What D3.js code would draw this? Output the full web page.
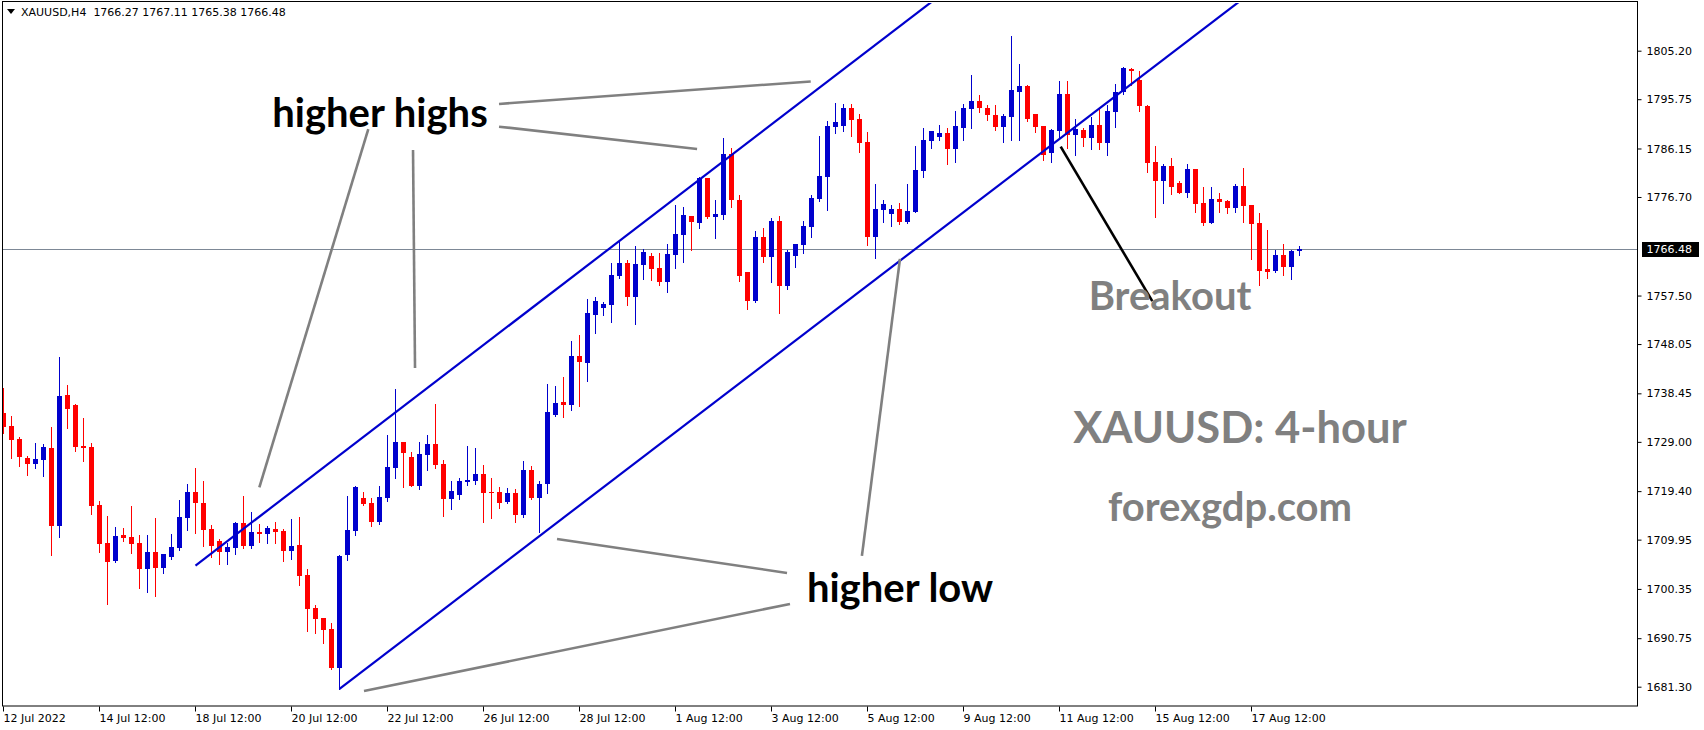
<!DOCTYPE html>
<html><head><meta charset="utf-8">
<script src="https://cdn.jsdelivr.net/npm/d3@7"></script>
<style>body{margin:0;background:#fff}svg{display:block}</style>
</head><body>
<svg id="c" width="1704" height="730"></svg>
<script>
// ---- data (XAUUSD H4) ----
const symbolTitle = "XAUUSD,H4";
const lastQuote = [1766.27, 1767.11, 1765.38, 1766.48];
const openP = [1734.57,1732.10,1729.57,1725.86,1724.76,1725.54,1727.81,1712.68,1738.14,1736.19,1728.20,1728.01,1716.71,1709.31,1705.86,1710.86,1710.48,1709.31,1704.31,1707.55,1704.50,1706.64,1708.39,1714.23,1719.23,1717.09,1712.03,1709.62,1707.61,1708.39,1713.19,1708.71,1711.44,1711.12,1712.03,1711.64,1707.74,1708.91,1703.06,1696.64,1694.69,1692.55,1684.95,1706.90,1711.70,1718.07,1717.09,1713.39,1718.13,1723.98,1728.98,1726.05,1720.47,1726.51,1728.59,1724.69,1717.94,1718.72,1721.25,1721.44,1722.74,1719.24,1719.24,1717.36,1718.98,1714.82,1723.46,1718.14,1720.73,1734.24,1736.71,1736.19,1745.73,1744.44,1753.79,1755.15,1755.73,1761.32,1763.85,1757.23,1763.46,1765.21,1762.88,1760.15,1765.47,1769.37,1773.00,1771.64,1780.41,1772.81,1773.20,1785.08,1776.12,1762.10,1756.51,1768.91,1765.08,1772.03,1759.43,1765.28,1767.42,1770.93,1776.32,1780.60,1790.41,1790.61,1794.05,1791.91,1787.43,1768.99,1774.18,1773.40,1774.38,1771.84,1773.79,1781.78,1787.62,1788.40,1789.18,1786.06,1790.16,1793.86,1795.41,1794.05,1792.69,1790.41,1792.36,1797.16,1798.33,1792.88,1790.54,1785.28,1789.56,1796.77,1788.79,1789.76,1788.20,1790.73,1787.23,1793.27,1797.16,1801.64,1799.50,1794.43,1783.53,1779.82,1782.82,1779.44,1777.56,1782.17,1775.54,1771.65,1776.32,1775.93,1774.57,1778.86,1775.15,1771.65,1762.69,1762.30,1765.41,1763.08,1766.27];
const highP = [1739.44,1734.05,1729.96,1726.25,1728.79,1728.59,1731.90,1745.54,1740.09,1736.38,1733.66,1728.79,1717.42,1714.57,1712.42,1712.23,1716.51,1710.86,1710.86,1714.18,1707.16,1711.06,1717.68,1720.73,1723.91,1721.38,1712.81,1710.01,1709.23,1713.32,1718.45,1715.34,1713.00,1712.61,1713.39,1712.03,1713.97,1714.36,1704.23,1697.22,1694.69,1693.71,1707.00,1718.52,1720.40,1719.24,1718.07,1720.40,1730.34,1739.30,1728.98,1727.03,1728.98,1730.34,1736.38,1725.47,1721.38,1721.96,1728.20,1727.81,1724.50,1721.96,1720.27,1719.95,1719.76,1725.28,1724.24,1721.45,1740.28,1739.89,1741.64,1748.66,1749.82,1756.84,1757.23,1756.25,1763.85,1768.33,1764.44,1767.16,1766.58,1765.80,1765.80,1767.55,1775.15,1774.76,1773.00,1780.60,1780.41,1776.12,1788.20,1786.25,1777.10,1762.10,1770.08,1770.67,1772.61,1773.00,1766.38,1767.55,1772.03,1777.10,1788.59,1791.51,1795.03,1794.83,1794.83,1792.88,1789.38,1779.25,1776.13,1775.16,1775.54,1779.25,1786.65,1790.16,1789.57,1790.74,1790.16,1793.47,1794.83,1800.48,1796.58,1794.64,1794.64,1792.88,1808.07,1802.62,1798.53,1792.88,1790.54,1789.95,1799.31,1799.31,1791.90,1790.15,1792.29,1794.05,1794.63,1798.72,1802.03,1801.84,1801.25,1794.63,1786.64,1783.14,1784.20,1779.83,1783.14,1782.17,1778.66,1778.66,1777.49,1776.13,1779.24,1782.36,1775.15,1773.60,1770.28,1766.45,1767.56,1766.39,1767.11];
const lowP = [1730.80,1725.93,1724.37,1722.62,1723.98,1722.42,1707.03,1710.54,1731.77,1727.29,1725.35,1715.02,1707.62,1697.49,1705.67,1709.76,1707.42,1700.61,1699.83,1699.05,1703.53,1706.25,1707.94,1711.83,1711.25,1708.78,1706.64,1705.21,1705.21,1707.22,1708.39,1708.39,1709.49,1709.30,1709.30,1705.79,1706.25,1701.12,1692.22,1691.77,1689.82,1684.75,1680.80,1705.90,1710.92,1716.70,1712.68,1713.07,1717.55,1722.03,1720.27,1720.47,1719.89,1723.59,1723.98,1714.63,1715.99,1717.94,1720.66,1720.86,1713.46,1714.24,1716.18,1717.16,1713.46,1714.44,1717.81,1711.51,1718.98,1734.05,1733.92,1735.21,1735.99,1740.93,1750.21,1753.72,1752.36,1760.93,1755.67,1751.97,1760.73,1760.54,1759.57,1758.20,1762.87,1764.04,1766.38,1770.67,1772.61,1768.72,1772.42,1774.76,1760.34,1754.89,1756.25,1764.04,1760.15,1754.17,1758.85,1763.13,1765.80,1768.98,1775.93,1774.17,1789.25,1789.64,1788.66,1785.48,1767.36,1764.90,1771.91,1771.13,1771.52,1771.70,1773.70,1780.67,1786.26,1787.82,1783.14,1783.53,1787.82,1790.16,1793.27,1791.71,1789.77,1787.42,1787.81,1787.81,1791.51,1789.37,1783.92,1783.53,1788.40,1786.25,1784.89,1786.64,1786.06,1786.06,1784.89,1790.34,1796.77,1798.53,1793.46,1781.58,1772.81,1775.54,1777.30,1777.56,1776.78,1773.79,1771.26,1771.65,1773.79,1773.60,1773.79,1771.84,1764.63,1759.63,1761.00,1762.10,1761.52,1760.80,1765.38];
const closeP = [1731.97,1729.44,1726.12,1724.76,1725.67,1728.01,1712.68,1737.94,1735.48,1728.07,1727.88,1716.58,1709.18,1705.67,1710.67,1710.35,1709.18,1704.31,1707.55,1704.50,1707.16,1708.53,1714.36,1719.23,1717.16,1711.83,1708.71,1707.61,1708.52,1713.19,1708.71,1711.38,1711.12,1712.22,1711.44,1707.74,1708.71,1702.87,1696.44,1694.49,1692.35,1684.95,1706.77,1711.83,1720.21,1716.90,1713.39,1718.26,1724.11,1728.98,1726.90,1720.47,1726.64,1728.59,1724.56,1717.94,1719.43,1721.38,1721.57,1722.74,1719.11,1719.11,1717.16,1718.98,1714.82,1723.46,1718.14,1720.73,1734.76,1736.51,1736.19,1745.73,1744.57,1754.11,1756.38,1755.86,1761.51,1763.85,1757.23,1763.66,1765.99,1762.68,1760.15,1765.60,1769.50,1773.20,1771.84,1780.41,1772.81,1773.39,1785.08,1776.12,1761.38,1756.51,1768.91,1765.08,1772.03,1759.43,1765.99,1767.55,1771.06,1776.51,1780.80,1790.54,1791.32,1794.05,1791.78,1787.30,1768.99,1774.38,1775.35,1774.38,1771.84,1773.99,1781.97,1787.82,1789.57,1789.18,1786.06,1790.54,1794.05,1795.41,1794.05,1792.69,1790.41,1792.49,1797.55,1798.33,1791.90,1790.34,1784.89,1789.76,1796.77,1788.79,1789.95,1788.20,1790.73,1787.23,1793.46,1797.16,1801.84,1801.25,1794.43,1783.33,1779.82,1782.75,1778.73,1777.56,1782.17,1775.41,1771.65,1776.32,1775.74,1774.57,1778.86,1774.96,1771.52,1762.36,1762.17,1765.41,1763.08,1766.19,1766.48];

const priceTicks = [1805.20,1795.75,1786.15,1776.70,1757.50,1748.05,1738.45,1729.00,1719.40,1709.95,1700.35,1690.75,1681.30];
const timeTickBars = [0,12,24,36,48,60,72,84,96,108,120,132,144,156];
const timeTickLabels = ["12 Jul 2022","14 Jul 12:00","18 Jul 12:00","20 Jul 12:00","22 Jul 12:00","26 Jul 12:00","28 Jul 12:00","1 Aug 12:00","3 Aug 12:00","5 Aug 12:00","9 Aug 12:00","11 Aug 12:00","15 Aug 12:00","17 Aug 12:00"];

// trend channel anchors: [bar index, price]
const upperChannel = [[24, 1704.9],[116, 1814.7]];
const lowerChannel = [[42, 1680.9],[124, 1778.5]];
// callout lines: [bar index, price] pairs
const calloutLines = [
  [[61.94,1794.83],[100.9,1799.21]],
  [[61.94,1790.40],[86.7,1786.06]],
  [[45.6,1789.9],[31.98,1720.15]],
  [[51.19,1785.86],[51.44,1743.39]],
  [[69.19,1710.08],[97.94,1703.46]],
  [[45.06,1680.47],[98.31,1697.42]],
  [[107.3,1706.77],[112.06,1764.63]]
];
const breakoutLine = [[132.15,1786.51],[143.6,1756.4]];

// ---- layout ----
const W = 1704, H = 730;
const frame = {left: 2, top: 2, right: 1637, bottom: 706};
const barStep = 8;
const xs = d3.scaleLinear().domain([0, openP.length - 1]).range([3.5, 3.5 + barStep * (openP.length - 1)]);
const ys = d3.scaleLinear().domain([1681.30, 1805.20]).range([686.7, 50.7]);

const svg = d3.select("#c");
svg.append("rect").attr("width", W).attr("height", H).attr("fill", "#fff");

const defs = svg.append("defs");
defs.append("clipPath").attr("id", "plot").append("rect")
  .attr("x", frame.left + 1).attr("y", frame.top + 1)
  .attr("width", frame.right - frame.left - 1).attr("height", frame.bottom - frame.top - 1);

const plot = svg.append("g").attr("clip-path", "url(#plot)");

// current price line
plot.append("line")
  .attr("x1", frame.left).attr("x2", frame.right)
  .attr("y1", Math.round(ys(lastQuote[3])) + 0.5).attr("y2", Math.round(ys(lastQuote[3])) + 0.5)
  .attr("stroke", "#7d8896").attr("stroke-width", 1);

// candles
const bull = "#0000cd", bear = "#ff0000";
const candles = plot.append("g").attr("shape-rendering", "crispEdges");
openP.forEach((o, i) => {
  const c = closeP[i], h = highP[i], l = lowP[i];
  const col = c > o ? bull : bear;
  const x = xs(i);
  const yh = Math.round(ys(h)), yl = Math.round(ys(l));
  candles.append("rect").attr("x", x - 0.5).attr("width", 1)
    .attr("y", yh).attr("height", Math.max(1, yl - yh + 1)).attr("fill", col);
  const yt = Math.round(ys(Math.max(o, c))), yb = Math.round(ys(Math.min(o, c)));
  candles.append("rect").attr("x", x - 2.5).attr("width", 5)
    .attr("y", yt).attr("height", Math.max(1, yb - yt)).attr("fill", col);
});

// channel rays
function ray(p, color, w) {
  const [a, b] = p;
  const slope = (b[1] - a[1]) / (b[0] - a[0]);
  const endPrice = ys.invert(frame.top - 10);
  const endIdx = a[0] + (endPrice - a[1]) / slope;
  plot.append("line")
    .attr("x1", xs(a[0])).attr("y1", ys(a[1]))
    .attr("x2", xs(endIdx)).attr("y2", ys(endPrice))
    .attr("stroke", color).attr("stroke-width", w);
}
ray(upperChannel, "#0000cd", 2.2);
ray(lowerChannel, "#0000cd", 2.2);

// callouts
calloutLines.forEach(seg => {
  plot.append("line")
    .attr("x1", xs(seg[0][0])).attr("y1", ys(seg[0][1]))
    .attr("x2", xs(seg[1][0])).attr("y2", ys(seg[1][1]))
    .attr("stroke", "#808080").attr("stroke-width", 2.6);
});
plot.append("line")
  .attr("x1", xs(breakoutLine[0][0])).attr("y1", ys(breakoutLine[0][1]))
  .attr("x2", xs(breakoutLine[1][0])).attr("y2", ys(breakoutLine[1][1]))
  .attr("stroke", "#000").attr("stroke-width", 2.6);

// annotation texts
const ann = [
  {t: "higher highs", x: 380, y: 127, size: 40, fill: "#000"},
  {t: "higher low", x: 900, y: 602, size: 40, fill: "#000"},
  {t: "Breakout", x: 1170, y: 310, size: 40, fill: "#808080"},
  {t: "XAUUSD: 4-hour", x: 1240, y: 443, size: 43.5, fill: "#808080"},
  {t: "forexgdp.com", x: 1230, y: 521, size: 40, fill: "#808080"}
];
svg.append("g").selectAll("text").data(ann).join("text")
  .attr("x", d => d.x).attr("y", d => d.y)
  .attr("text-anchor", "middle")
  .attr("font-family", "Lato, 'Open Sans', sans-serif")
  .attr("font-weight", 700)
  .attr("font-size", d => d.size)
  .attr("fill", d => d.fill)
  .text(d => d.t);

// frame
svg.append("rect")
  .attr("x", frame.left + 0.5).attr("y", frame.top - 0.5)
  .attr("width", frame.right - frame.left).attr("height", frame.bottom - frame.top + 0.5)
  .attr("fill", "none").attr("stroke", "#000").attr("stroke-width", 1);

// y axis
const yAxis = d3.axisRight(ys).tickValues(priceTicks).tickSize(4).tickPadding(5)
  .tickFormat(d3.format(".2f"));
const gy = svg.append("g").attr("transform", `translate(${frame.right + 0.5},0)`).call(yAxis);
gy.select(".domain").remove();
gy.selectAll("text").attr("font-family", "'DejaVu Sans', sans-serif").attr("font-size", 11).attr("fill", "#000");
gy.selectAll("line").attr("stroke", "#000");

// price marker
const py = ys(lastQuote[3]);
svg.append("rect").attr("x", frame.right + 5).attr("y", Math.round(py) - 7)
  .attr("width", 57).attr("height", 15).attr("fill", "#000");
svg.append("text").attr("x", frame.right + 9.5).attr("y", py).attr("dy", "0.35em")
  .attr("font-family", "'DejaVu Sans', sans-serif").attr("font-size", 11).attr("fill", "#fff")
  .text(d3.format(".2f")(lastQuote[3]));

// x axis
const xAxis = d3.axisBottom(xs).tickValues(timeTickBars).tickSize(5).tickPadding(3).offset(0)
  .tickFormat((d, i) => timeTickLabels[i]);
const gx = svg.append("g").attr("transform", `translate(0,${frame.bottom + 0.5})`).call(xAxis);
gx.select(".domain").remove();
gx.selectAll("text").attr("text-anchor", "start").attr("x", 0)
  .attr("font-family", "'DejaVu Sans', sans-serif").attr("font-size", 11).attr("fill", "#000");
gx.selectAll("line").attr("stroke", "#000");

// title
svg.append("path").attr("d", "M7,9 L15,9 L11,14 Z").attr("fill", "#000");
svg.append("text").attr("x", 21).attr("y", 16)
  .attr("font-family", "'DejaVu Sans', sans-serif").attr("font-size", 11).attr("fill", "#000")
  .attr("xml:space", "preserve")
  .text(symbolTitle + "  " + lastQuote.map(d3.format(".2f")).join(" "));
</script>
</body></html>
